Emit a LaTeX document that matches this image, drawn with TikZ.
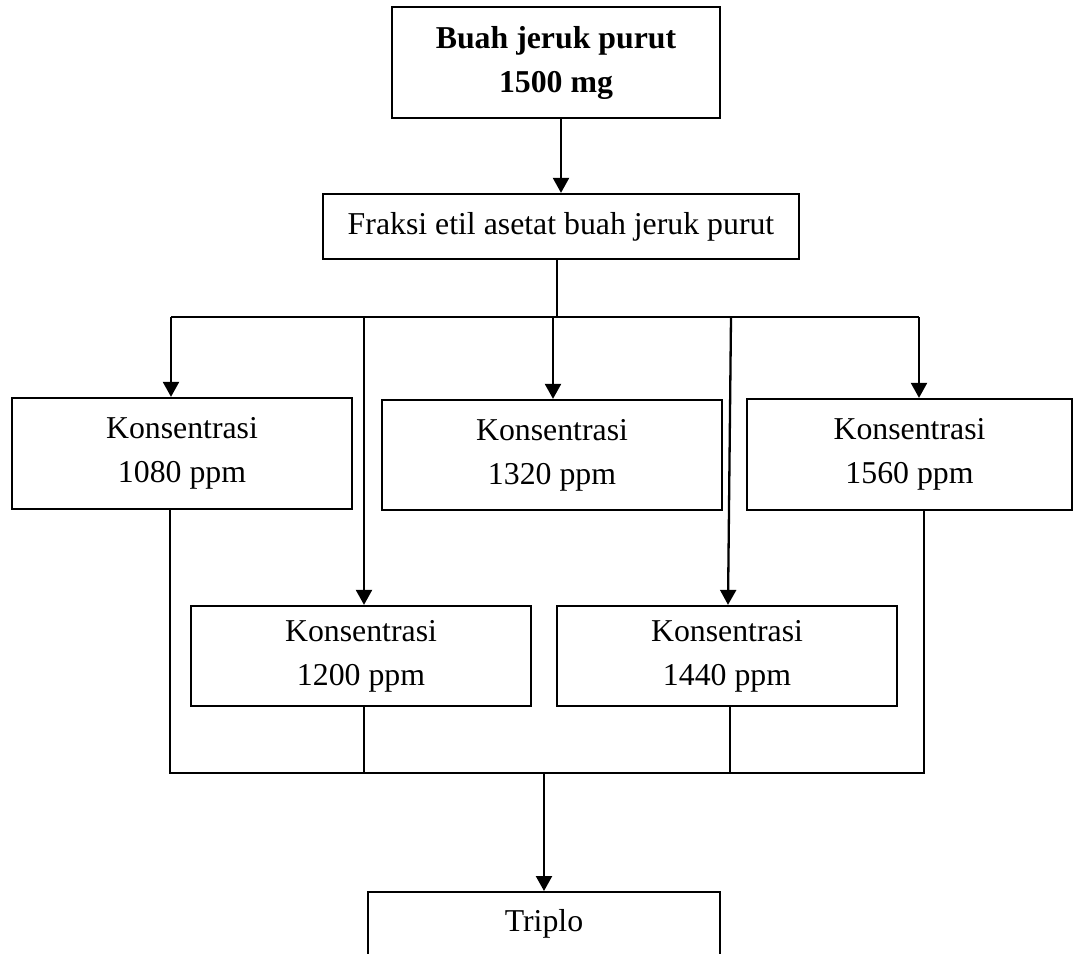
\documentclass[tikz,border=0pt]{standalone}
\usepackage{fontspec}
\setmainfont{Liberation Serif}
\usetikzlibrary{arrows.meta}
\begin{document}
\begin{tikzpicture}[x=1pt,y=-1pt,
  box/.style={draw, line width=2.3pt, rectangle, inner sep=0pt, align=center, font=\fontsize{31.8}{44}\selectfont},
  arr/.style={line width=2.3pt, -{Triangle[width=16pt,length=15pt]}},
  ln/.style={line width=2.3pt},
  thinln/.style={line width=1.7pt}]
\useasboundingbox (0,0) rectangle (1084,953);
\clip (0,0) rectangle (1084,953);
\fill[white] (0,0) rectangle (1084,953);
% boxes
\node[box, minimum width=328pt, minimum height=111pt, font=\fontsize{31.8}{44}\selectfont\bfseries] (top) at (556,62.5) {Buah jeruk purut\\1500 mg};
\node[box, minimum width=476pt, minimum height=65pt] (fr) at (561,226.5) {Fraksi etil asetat buah jeruk purut};
\node[box, minimum width=340pt, minimum height=111pt] (c1080) at (182,453.5) {Konsentrasi\\1080 ppm};
\node[box, minimum width=340pt, minimum height=110pt] (c1320) at (552,455) {Konsentrasi\\1320 ppm};
\node[box, minimum width=325pt, minimum height=111pt] (c1560) at (909.5,454.5) {Konsentrasi\\1560 ppm};
\node[box, minimum width=340pt, minimum height=100pt] (c1200) at (361,656) {Konsentrasi\\1200 ppm};
\node[box, minimum width=340pt, minimum height=100pt] (c1440) at (727,656) {Konsentrasi\\1440 ppm};
\node[box, anchor=north, minimum width=352pt, text height=22pt, text depth=80pt, inner ysep=17pt] (tr) at (544,891) {Triplo};
% connectors
\draw[arr] (fr.north |- top.south) -- (fr.north);
\coordinate (j0) at (557,317);
\draw[ln] (j0 |- fr.south) -- (j0);
\coordinate (t1) at (171,317);
\coordinate (t2) at (364,317);
\coordinate (t3) at (553,317);
\coordinate (t4) at (731,317);
\coordinate (t5) at (919,317);
\draw[ln] (t1) -- (t5);
\draw[arr] (t1) -- (t1 |- c1080.north);
\draw[arr] (t2) -- (t2 |- c1200.north);
\draw[arr] (t3) -- (t3 |- c1320.north);
\draw[arr] (t4) -- ([xshift=1pt]c1440.north);
\draw[arr] (t5) -- (t5 |- c1560.north);
\coordinate (b1) at (170,773);
\coordinate (b2) at (364,773);
\coordinate (b3) at (544,773);
\coordinate (b4) at (730,773);
\coordinate (b5) at (924,773);
\draw[thinln] (b1 |- c1080.south) -- (b1) -- (b5) -- (b5 |- c1560.south);
\draw[thinln] (b2 |- c1200.south) -- (b2);
\draw[thinln] (b4 |- c1440.south) -- (b4);
\draw[arr] (b3) -- (tr.north);
\end{tikzpicture}
\end{document}
